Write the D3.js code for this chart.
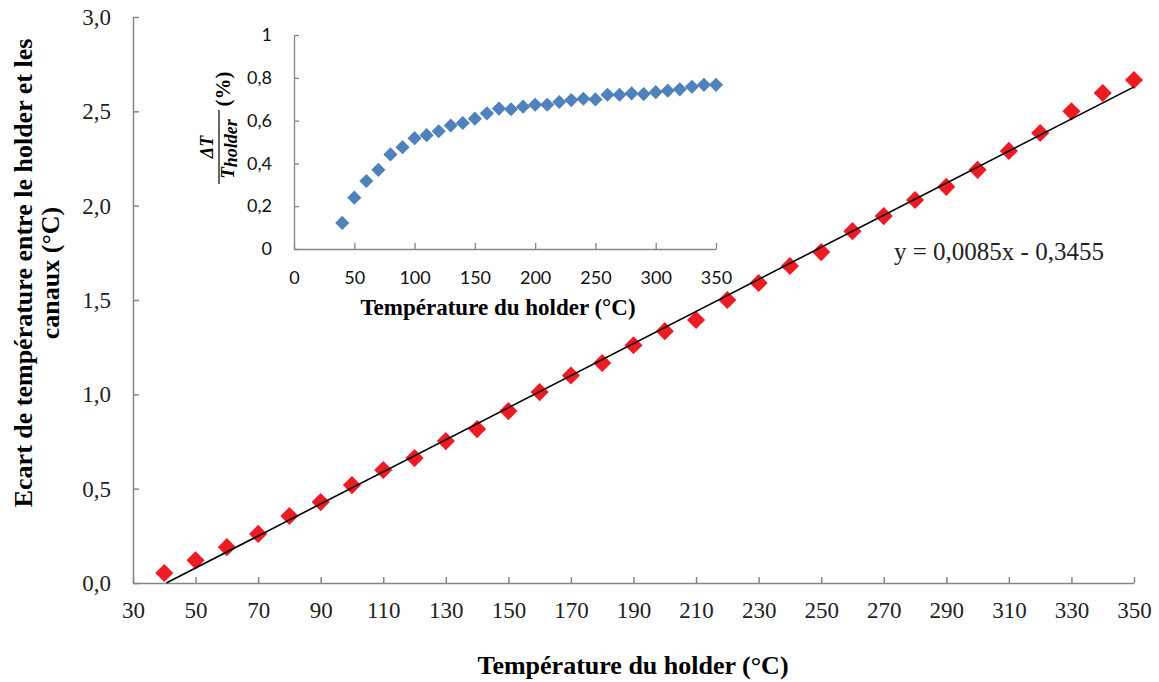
<!DOCTYPE html>
<html>
<head>
<meta charset="utf-8">
<script src="https://cdnjs.cloudflare.com/ajax/libs/d3/7.8.5/d3.min.js"></script>
<style>
  body { margin: 0; background: #fff; }
  svg { display: block; }
</style>
</head>
<body>
<svg id="chart" width="1159" height="682"></svg>
<script>
// temperature du holder (°C)
var temps = [40,50,60,70,80,90,100,110,120,130,140,150,160,170,180,190,200,
             210,220,230,240,250,260,270,280,290,300,310,320,330,340,350];
// ecart holder / canaux (°C)
var ecart = [0.053,0.12,0.19,0.26,0.355,0.429,0.519,0.599,0.662,0.752,0.816,0.911,1.012,1.10,1.166,1.26,1.335,
             1.394,1.50,1.59,1.68,1.754,1.865,1.945,2.03,2.10,2.19,2.29,2.385,2.50,2.597,2.666];
// deltaT / T holder (%)
var ratio = [0.122,0.24,0.318,0.37,0.442,0.476,0.518,0.532,0.55,0.577,0.589,0.609,0.634,0.656,0.653,0.665,0.674,
             0.674,0.687,0.696,0.702,0.699,0.721,0.721,0.727,0.724,0.733,0.74,0.746,0.758,0.767,0.767];
// courbe de tendance
var slope = 0.0085, intercept = -0.3455;

var mainXTicks = d3.range(30, 351, 20);
var mainYTicks = [0, 0.5, 1, 1.5, 2, 2.5, 3];
var insetXTicks = d3.range(0, 351, 50);
var insetYTicks = [0, 0.2, 0.4, 0.6, 0.8, 1];

var svg = d3.select("#chart");
var axisCol = "#868686";
var serif = "'Liberation Serif', serif";
var sans = "Lato, 'Open Sans', sans-serif";
var comma = function(v, d){ return v.toFixed(d).replace('.', ','); };

// ---- main chart ----
var x = d3.scaleLinear().domain([30, 350]).range([133, 1134]);
var y = d3.scaleLinear().domain([0, 3]).range([583, 17]);

var gx = svg.append("g").attr("transform", "translate(0," + y(0) + ")")
    .call(d3.axisBottom(x).tickValues(mainXTicks).tickSize(-6).tickSizeOuter(0).tickPadding(19));
var gy = svg.append("g").attr("transform", "translate(" + x(30) + ",0)")
    .call(d3.axisLeft(y).tickValues(mainYTicks).tickSize(-6).tickSizeOuter(0).tickPadding(22)
        .tickFormat(function(d){ return comma(d, 1); }));

[gx, gy].forEach(function(g){
    g.selectAll("path, line").attr("stroke", axisCol).attr("stroke-width", 1.5);
    g.selectAll("text").attr("fill", "#222").style("font-family", serif).style("font-size", "23px");
});
gx.selectAll("text").attr("dy", "0.71em");

var diamond = function(size){ return d3.symbol().type(d3.symbolSquare).size(size); };

svg.append("g").selectAll("path")
    .data(temps)
    .enter()
    .append("path")
    .attr("d", diamond(165))
    .attr("transform", function(d, i){ return "translate(" + x(d) + "," + y(ecart[i]) + ") rotate(45)"; })
    .attr("fill", "#ED1C24");

// trend line, starts where it crosses 0
var x0 = -intercept / slope;
svg.append("line")
    .attr("x1", x(x0)).attr("y1", y(slope * x0 + intercept))
    .attr("x2", x(350)).attr("y2", y(slope * 350 + intercept))
    .attr("stroke", "#000").attr("stroke-width", 1.6);

svg.append("text")
    .attr("x", 894).attr("y", 260)
    .style("font-family", serif).style("font-size", "25px").attr("fill", "#222")
    .text("y = " + comma(slope, 4) + "x - " + comma(-intercept, 4));

svg.append("text")
    .attr("x", 633).attr("y", 674).attr("text-anchor", "middle")
    .style("font-family", serif).style("font-size", "26px").style("font-weight", "bold")
    .text("Température du holder (°C)");

var yTitle = svg.append("text")
    .attr("transform", "translate(32,273) rotate(-90)")
    .attr("text-anchor", "middle")
    .style("font-family", serif).style("font-size", "26px").style("font-weight", "bold");
yTitle.append("tspan").attr("x", 0).attr("y", 0).text("Ecart de température entre le holder et les");
yTitle.append("tspan").attr("x", 0).attr("y", 27).text("canaux (°C)");

// ---- inset ----
var ix = d3.scaleLinear().domain([0, 350]).range([294, 716]);
var iy = d3.scaleLinear().domain([0, 1]).range([249, 35]);

var igx = svg.append("g").attr("transform", "translate(0," + iy(0) + ")")
    .call(d3.axisBottom(ix).tickValues(insetXTicks).tickSize(-6).tickSizeOuter(0).tickPadding(22));
var igy = svg.append("g").attr("transform", "translate(" + ix(0) + ",0)")
    .call(d3.axisLeft(iy).tickValues(insetYTicks).tickSize(-5).tickSizeOuter(0).tickPadding(22)
        .tickFormat(function(d){ return d === 0 || d === 1 ? d : comma(d, 1); }));

[igx, igy].forEach(function(g){
    g.selectAll("path, line").attr("stroke", axisCol).attr("stroke-width", 1.3);
    g.selectAll("text").attr("fill", "#111").style("font-family", sans).style("font-size", "18px");
});

svg.append("g").selectAll("path")
    .data(temps)
    .enter()
    .append("path")
    .attr("d", diamond(100))
    .attr("transform", function(d, i){ return "translate(" + ix(d) + "," + iy(ratio[i]) + ") rotate(45)"; })
    .attr("fill", "#4F81BD");

svg.append("text")
    .attr("x", 498).attr("y", 315).attr("text-anchor", "middle")
    .style("font-family", serif).style("font-size", "23px").style("font-weight", "bold")
    .text("Température du holder (°C)");

// fraction label dT / T_holder (%)
var frac = svg.append("g").attr("transform", "translate(219,147) rotate(-90)")
    .style("font-family", serif).style("font-weight", "bold");
frac.append("line").attr("x1", -37).attr("x2", 37).attr("y1", 0).attr("y2", 0)
    .attr("stroke", "#000").attr("stroke-width", 1.2);
frac.append("text").attr("x", 0).attr("y", -6).attr("text-anchor", "middle")
    .style("font-style", "italic").style("font-size", "18px").text("ΔT");
var den = frac.append("text").attr("x", -2).attr("y", 15).attr("text-anchor", "middle")
    .style("font-style", "italic").style("font-size", "19px");
den.append("tspan").text("T");
den.append("tspan").attr("dy", 3).style("font-size", "18px").text("holder");
frac.append("text").attr("x", 58).attr("y", 11).attr("text-anchor", "middle")
    .style("font-size", "21px").text("(%)");
</script>
</body>
</html>
